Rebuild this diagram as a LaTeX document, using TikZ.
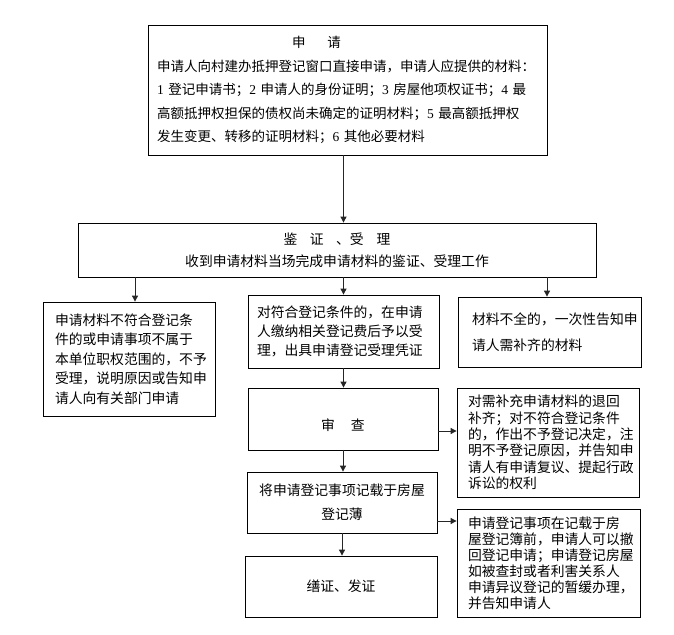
\documentclass[tikz,border=0pt]{standalone}
\usepackage{fontspec}
\setmainfont{Noto Sans CJK SC}
\newfontfamily\ser{Liberation Serif}
\usetikzlibrary{arrows.meta}
\begin{document}
\begin{tikzpicture}[x=1pt,y=-1pt,
  box/.style={draw=black,line width=0.8pt,inner ysep=0pt,anchor=center,align=left},
  cbox/.style={draw=black,line width=0.8pt,inner sep=0pt,anchor=center,align=center},
  arr/.style={draw=black!85,line width=0.9pt,-{Triangle[length=6pt,width=6pt]}},
]
\path[fill=white,use as bounding box] (0,0) rectangle (674,634);

\node[box,minimum width=399pt,minimum height=130pt,text width=381pt,inner xsep=9pt,
  font=\fontsize{13.5}{23.5}\selectfont] (top) at (347.5,90)
 {\hspace*{135pt}申\hspace{22pt}请\\
  申请人向村建办抵押登记窗口直接申请，申请人应提供的材料：\\
  {\ser 1} 登记申请书；{\ser 2} 申请人的身份证明；{\ser 3} 房屋他项权证书；{\ser 4} 最\\
  高额抵押权担保的债权尚未确定的证明材料；{\ser 5} 最高额抵押权\\
  发生变更、转移的证明材料；{\ser 6} 其他必要材料};

\node[cbox,minimum width=518pt,minimum height=54pt,
  font=\fontsize{13.8}{22}\selectfont] (b2) at (337,250)
 {鉴\hspace{12.5pt}证\hspace{12.5pt}、受\hspace{13pt}理\\
  收到申请材料当场完成申请材料的鉴证、受理工作};

\node[box,minimum width=172pt,minimum height=114pt,text width=148pt,inner xsep=12pt,
  font=\fontsize{13.8}{19.5}\selectfont] (lbox) at (129,359)
 {申请材料不符合登记条\\件的或申请事项不属于\\本单位职权范围的，不予\\受理，说明原因或告知申\\请人向有关部门申请};

\node[box,minimum width=191pt,minimum height=73pt,text width=173pt,inner xsep=9pt,
  font=\fontsize{13.8}{19}\selectfont] (mbox) at (343.5,331.5)
 {对符合登记条件的，在申请\\人缴纳相关登记费后予以受\\理，出具申请登记受理凭证};

\node[box,minimum width=183pt,minimum height=70pt,text width=155pt,inner xsep=14pt,
  font=\fontsize{13.8}{26}\selectfont] (r1) at (549.5,332)
 {材料不全的，一次性告知申\\请人需补齐的材料};

\node[cbox,minimum width=190pt,minimum height=62pt,text height=23pt,text depth=0pt,
  font=\fontsize{13.8}{16}\selectfont] (sc) at (343,419)
 {审\hspace{16pt}查};

\node[box,minimum width=182pt,minimum height=109pt,text width=160pt,inner xsep=11pt,
  font=\fontsize{13.8}{16.3}\selectfont] (r2) at (548,442.5)
 {对需补充申请材料的退回\\补齐；对不符合登记条件\\的，作出不予登记决定，注\\明不予登记原因，并告知申\\请人有申请复议、提起行政\\诉讼的权利};

\node[cbox,minimum width=190pt,minimum height=61pt,
  font=\fontsize{13.8}{24}\selectfont] (jz) at (342,502.5)
 {将申请登记事项记载于房屋\\登记薄};

\node[box,minimum width=183pt,minimum height=108pt,text width=161pt,inner xsep=11pt,
  font=\fontsize{13.8}{16}\selectfont] (r3) at (548.5,563)
 {申请登记事项在记载于房\\屋登记簿前，申请人可以撤\\回登记申请；申请登记房屋\\如被查封或者利害关系人\\申请异议登记的暂缓办理，\\并告知申请人};

\node[cbox,minimum width=192pt,minimum height=61pt,
  font=\fontsize{13.8}{16}\selectfont] (sz) at (341,586.5)
 {缮证、发证};

\draw[arr] (top.south -| mbox.north) -- (b2.north -| mbox.north);
\draw[arr] ([xshift=6pt]lbox.north |- b2.south) -- ([xshift=6pt]lbox.north);
\draw[arr] (mbox.north |- b2.south) -- (mbox.north);
\draw[arr] ([xshift=-2.5pt]r1.north |- b2.south) -- ([xshift=-2.5pt]r1.north);
\draw[arr] (mbox.south) -- (mbox.south |- sc.north);
\draw[arr] ([yshift=-12pt]sc.east) -- ([yshift=-12pt]sc.east -| r2.west);
\draw[arr] (sc.south) -- (sc.south |- jz.north);
\draw[arr] ([yshift=-18.5pt]jz.east) -- ([yshift=-18.5pt]jz.east -| r3.west);
\draw[arr] (jz.south) -- (jz.south |- sz.north);
\end{tikzpicture}
\end{document}
